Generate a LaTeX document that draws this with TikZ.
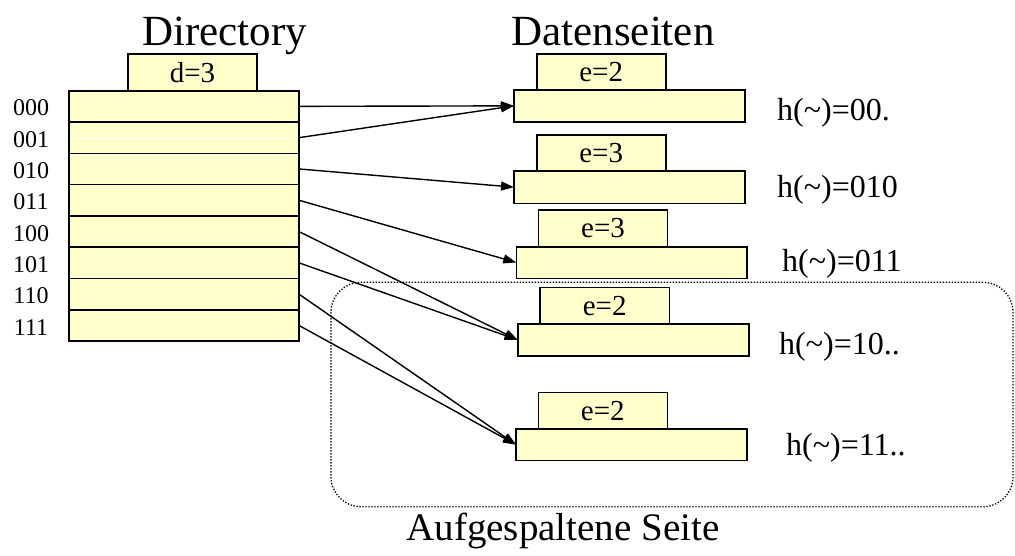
\documentclass[tikz,border=0pt]{standalone}
\usepackage{fontspec}
\setmainfont{Liberation Serif}
\usetikzlibrary{arrows.meta}
\definecolor{pale}{RGB}{255,255,204}
\newcommand\fsz[1]{\fontsize{#1}{#1}\selectfont}
\begin{document}
\begin{tikzpicture}[x=1pt,y=-1pt,
  box/.style={draw=black, fill=pale, line width=1.6pt, inner sep=0pt, outer sep=0pt},
  row/.style={box, minimum width=230pt, minimum height=31.3pt},
  tab/.style={box, minimum width=129pt, minimum height=36pt, font=\fsz{29}},
  page/.style={box, minimum width=231pt, minimum height=31.6pt},
  lab/.style={inner sep=0pt, anchor=base west, font=\fsz{32}},
  rl/.style={inner sep=0pt, font=\fsz{24}},
  title/.style={inner sep=0pt, anchor=base},
  link/.style={line width=1.4pt, -{Triangle[length=13pt,width=9pt]}},
  region/.style={draw, line width=1.3pt, dash pattern=on 1.3pt off 1.7pt, rounded corners=30pt, inner sep=0pt}
]
\useasboundingbox (0,0) rectangle (1015,555);

% split region
\node[region, minimum width=682pt, minimum height=224.4pt] (split) at (672,394.5) {};

% titles
\node[title, font=\fsz{43}] (tdir) at (224.7,45) {Directory};
\node[title, font=\fsz{43}] (tdat) at (613,45) {Datenseiten};
\node[title, font=\fsz{39}] (tsplit) at (563,540) {Aufgespaltene Seite};

% directory
\node[tab, minimum height=36.7pt] (d) at (192.5,72.35) {d=3};
\foreach \i/\t in {0/000,1/001,2/010,3/011,4/100,5/101,6/110,7/111}{
  \node[row] (r\i) at (184,106.35+31.3*\i) {};
  \node[rl] (l\i) at (31,108+31.3*\i) {\t};
}
\draw[white, line width=0.6pt] ([xshift=1pt,yshift=-0.6pt]r1.west) -- ([xshift=-1pt,yshift=-0.6pt]r1.east);

% data pages
\node[tab] (e1) at (601.2,72) {e=2};
\node[page, minimum height=31.7pt] (p1) at (629.5,105.85) {};
\node[tab] (e2) at (601.2,153) {e=3};
\node[page, minimum height=32.3pt] (p2) at (629.5,187.15) {};
\node[tab, minimum height=36.7pt] (e3) at (603,228.35) {e=3};
\node[page, minimum width=230.4pt] (p3) at (631.5,262.5) {};
\node[tab, minimum width=129.3pt, minimum height=36.7pt] (e4) at (604.65,305.65) {e=2};
\node[page, minimum height=31.7pt] (p4) at (633.2,339.85) {};
\node[tab, minimum height=36.7pt] (e5) at (602.8,410.65) {e=2};
\node[page, minimum height=31.3pt] (p5) at (631.5,444.65) {};

% hash labels
\node[lab] (h1) at (777,120) {h(\textasciitilde)=00.};
\node[lab] (h2) at (777,197) {h(\textasciitilde)=010};
\node[lab] (h3) at (782,271) {h(\textasciitilde)=011};
\node[lab] (h4) at (779,354) {h(\textasciitilde)=10..};
\node[lab] (h5) at (786,455) {h(\textasciitilde)=11..};

% pointers
\draw[link] (r0.east) -- (p1.west);
\draw[link] (r1.east) -- (p1.west);
\draw[link] (r2.east) -- (p2.west);
\draw[link] (r3.east) -- (p3.west);
\draw[link] (r4.east) -- (p4.west);
\draw[link] (r5.east) -- (p4.west);
\draw[link] (r6.east) -- (p5.west);
\draw[link] (r7.east) -- (p5.west);
\end{tikzpicture}
\end{document}
